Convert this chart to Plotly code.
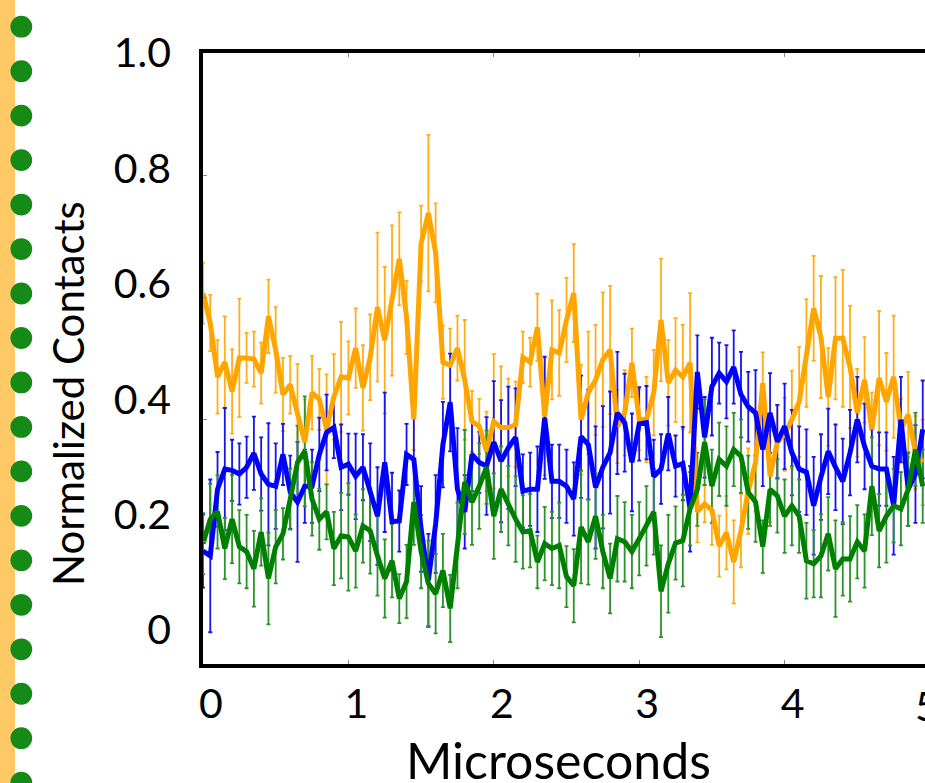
import plotly.graph_objects as go

# Sampling times (microseconds), 0.05 us steps
time_us = [round(0.05 * k, 2) for k in range(100)]

orange_vals = [0.607, 0.558, 0.470, 0.494, 0.446, 0.501, 0.501, 0.499, 0.476, 0.569,
               0.514, 0.441, 0.457, 0.411, 0.363, 0.444, 0.433, 0.384, 0.437, 0.470,
               0.468, 0.517, 0.452, 0.502, 0.584, 0.530, 0.595, 0.663, 0.567, 0.400,
               0.688, 0.738, 0.673, 0.494, 0.489, 0.517, 0.465, 0.397, 0.389, 0.348,
               0.397, 0.387, 0.387, 0.392, 0.502, 0.494, 0.551, 0.405, 0.514, 0.509,
               0.563, 0.607, 0.400, 0.444, 0.465, 0.498, 0.514, 0.389, 0.411, 0.493,
               0.400, 0.400, 0.444, 0.563, 0.460, 0.481, 0.470, 0.493, 0.249, 0.262,
               0.252, 0.193, 0.215, 0.167, 0.218, 0.283, 0.330, 0.460, 0.307, 0.363,
               0.376, 0.400, 0.429, 0.509, 0.582, 0.535, 0.437, 0.533, 0.533, 0.486,
               0.411, 0.465, 0.384, 0.468, 0.429, 0.470, 0.384, 0.408, 0.346, 0.330]
orange_err = [0.05, 0.046, 0.06, 0.075, 0.069, 0.097, 0.041, 0.045, 0.05, 0.06,
              0.07, 0.06, 0.047, 0.08, 0.07, 0.06, 0.05, 0.09, 0.07, 0.09,
              0.06, 0.065, 0.07, 0.07, 0.122, 0.12, 0.123, 0.076, 0.06, 0.05,
              0.062, 0.128, 0.081, 0.06, 0.06, 0.053, 0.098, 0.05, 0.045, 0.065,
              0.11, 0.1, 0.08, 0.07, 0.042, 0.04, 0.055, 0.096, 0.081, 0.07,
              0.069, 0.08, 0.09, 0.1, 0.09, 0.11, 0.105, 0.06, 0.07, 0.056,
              0.05, 0.07, 0.07, 0.1, 0.07, 0.085, 0.085, 0.114, 0.05, 0.03,
              0.057, 0.05, 0.06, 0.068, 0.06, 0.07, 0.08, 0.05, 0.075, 0.06,
              0.06, 0.08, 0.09, 0.088, 0.086, 0.1, 0.08, 0.1, 0.112, 0.1,
              0.072, 0.07, 0.06, 0.11, 0.08, 0.1, 0.05, 0.07, 0.06, 0.07]

blue_vals = [0.185, 0.177, 0.286, 0.319, 0.317, 0.311, 0.322, 0.345, 0.311, 0.294,
             0.291, 0.343, 0.281, 0.265, 0.291, 0.291, 0.343, 0.379, 0.387, 0.322,
             0.327, 0.307, 0.322, 0.281, 0.242, 0.330, 0.233, 0.234, 0.343, 0.335,
             0.221, 0.137, 0.229, 0.359, 0.428, 0.286, 0.249, 0.343, 0.330, 0.324,
             0.363, 0.332, 0.354, 0.371, 0.283, 0.286, 0.286, 0.403, 0.299, 0.299,
             0.291, 0.270, 0.372, 0.359, 0.289, 0.322, 0.346, 0.411, 0.395, 0.330,
             0.393, 0.395, 0.307, 0.319, 0.377, 0.324, 0.328, 0.254, 0.478, 0.371,
             0.454, 0.476, 0.462, 0.486, 0.441, 0.421, 0.411, 0.351, 0.411, 0.364,
             0.389, 0.346, 0.319, 0.314, 0.259, 0.306, 0.348, 0.322, 0.299, 0.346,
             0.400, 0.356, 0.324, 0.319, 0.319, 0.259, 0.400, 0.286, 0.311, 0.384]
blue_err = [0.06, 0.125, 0.061, 0.1, 0.05, 0.05, 0.05, 0.06, 0.06, 0.1,
            0.07, 0.05, 0.06, 0.098, 0.06, 0.06, 0.06, 0.062, 0.05, 0.07,
            0.05, 0.07, 0.054, 0.08, 0.08, 0.114, 0.08, 0.05, 0.05, 0.09,
            0.07, 0.076, 0.08, 0.07, 0.08, 0.1, 0.06, 0.06, 0.05, 0.08,
            0.1, 0.1, 0.1, 0.08, 0.06, 0.06, 0.07, 0.1, 0.06, 0.06,
            0.06, 0.06, 0.1, 0.09, 0.1, 0.1, 0.1, 0.1, 0.08, 0.08,
            0.06, 0.06, 0.06, 0.057, 0.06, 0.05, 0.06, 0.07, 0.06, 0.066,
            0.08, 0.05, 0.06, 0.06, 0.07, 0.057, 0.07, 0.06, 0.065, 0.06,
            0.07, 0.07, 0.07, 0.07, 0.08, 0.07, 0.07, 0.07, 0.07, 0.07,
            0.07, 0.07, 0.06, 0.06, 0.06, 0.08, 0.07, 0.06, 0.08, 0.08]

green_vals = [0.197, 0.237, 0.249, 0.189, 0.237, 0.192, 0.184, 0.156, 0.216, 0.140,
              0.192, 0.213, 0.270, 0.330, 0.348, 0.270, 0.237, 0.249, 0.189, 0.210,
              0.208, 0.185, 0.226, 0.218, 0.177, 0.140, 0.169, 0.107, 0.135, 0.265,
              0.184, 0.132, 0.115, 0.153, 0.091, 0.194, 0.298, 0.265, 0.291, 0.322,
              0.242, 0.286, 0.259, 0.237, 0.216, 0.218, 0.167, 0.197, 0.189, 0.194,
              0.143, 0.128, 0.224, 0.200, 0.242, 0.184, 0.140, 0.205, 0.200, 0.184,
              0.205, 0.226, 0.249, 0.119, 0.164, 0.198, 0.202, 0.254, 0.286, 0.363,
              0.291, 0.335, 0.324, 0.351, 0.340, 0.281, 0.265, 0.192, 0.286, 0.275,
              0.242, 0.259, 0.242, 0.169, 0.164, 0.177, 0.213, 0.156, 0.172, 0.172,
              0.200, 0.185, 0.291, 0.218, 0.242, 0.259, 0.254, 0.286, 0.351, 0.291]
green_err = [0.05, 0.058, 0.06, 0.05, 0.072, 0.06, 0.06, 0.062, 0.055, 0.075,
             0.06, 0.042, 0.05, 0.06, 0.09, 0.06, 0.05, 0.045, 0.06, 0.07,
             0.088, 0.06, 0.06, 0.07, 0.065, 0.064, 0.06, 0.04, 0.06, 0.07,
             0.06, 0.07, 0.065, 0.06, 0.055, 0.07, 0.085, 0.07, 0.07, 0.06,
             0.07, 0.07, 0.065, 0.07, 0.06, 0.06, 0.043, 0.06, 0.06, 0.07,
             0.05, 0.06, 0.092, 0.07, 0.07, 0.06, 0.057, 0.07, 0.065, 0.06,
             0.06, 0.065, 0.07, 0.075, 0.08, 0.06, 0.075, 0.06, 0.06, 0.07,
             0.06, 0.06, 0.065, 0.06, 0.06, 0.06, 0.065, 0.043, 0.06, 0.06,
             0.06, 0.065, 0.06, 0.062, 0.055, 0.068, 0.06, 0.079, 0.06, 0.07,
             0.06, 0.06, 0.08, 0.06, 0.076, 0.06, 0.06, 0.06, 0.06, 0.06]

x_ticks = [0, 1, 2, 3, 4]
x_ticktext = ["0", "1", "2", "3", "4"]
y_ticks = [0, 0.2, 0.4, 0.6, 0.8, 1.0]
y_ticktext = ["0", "0.2", "0.4", "0.6", "0.8", "1.0"]

series = [
    (orange_vals, orange_err, "#FFA500", "#FFAE1A"),
    (blue_vals, blue_err, "#0000FF", "#1414F5"),
    (green_vals, green_err, "#008000", "#2A942A"),
]

# Page geometry (pixels)
W, H = 925, 783
L, T, B = 203, 53, 119
PW, PH = W - L, H - T - B
PX_PER_US = 145.4

def px(xp):
    return (xp - L) / PW

def py(yp):
    return (H - B - yp) / PH

FONT = "Lato"
fig = go.Figure()

# error bars underneath every line
for vals, err, _, bar_col in series:
    fig.add_trace(go.Scatter(
        x=time_us, y=vals, mode="markers",
        marker=dict(size=1, color="rgba(0,0,0,0)"),
        error_y=dict(type="data", array=err, visible=True,
                     color=bar_col, thickness=1.8, width=2),
        hoverinfo="skip", showlegend=False,
    ))

for vals, _, line_col, _ in series:
    fig.add_trace(go.Scatter(
        x=time_us, y=vals, mode="lines",
        line=dict(color=line_col, width=5),
        showlegend=False,
    ))

# label-only axis for the y tick text
fig.add_trace(go.Scatter(x=[None], y=[None], yaxis="y2", showlegend=False))

shapes = [dict(type="rect", xref="paper", yref="paper",
               x0=px(0), x1=px(15), y0=py(H), y1=py(0),
               fillcolor="#FFC966", line=dict(width=0), layer="above")]
for k in range(18):
    cy = 26.7 + 44.47 * k
    shapes.append(dict(type="circle", xref="paper", yref="paper",
                       x0=px(21.3 - 10.9), x1=px(21.3 + 10.9),
                       y0=py(cy + 10.9), y1=py(cy - 10.9),
                       fillcolor="#168A16", line=dict(width=0), layer="above"))

fig.update_layout(
    width=W, height=H,
    margin=dict(l=L, r=0, t=T, b=B),
    paper_bgcolor="white", plot_bgcolor="white",
    showlegend=False,
    font=dict(family=FONT, color="black"),
    xaxis=dict(
        range=[0, PW / PX_PER_US],
        tickvals=x_ticks, ticktext=x_ticktext,
        tickfont=dict(size=41, family=FONT, color="black"),
        ticklabelshift=8, ticklabelstandoff=1,
        ticks="inside", ticklen=4, tickwidth=1, tickcolor="#888888",
        showline=True, linewidth=4, linecolor="black", mirror="ticks",
        showgrid=False, zeroline=False,
    ),
    yaxis=dict(
        range=[0, 1.0],
        tickvals=y_ticks, showticklabels=False,
        ticks="inside", ticklen=4, tickwidth=1, tickcolor="#888888",
        showline=True, linewidth=4, linecolor="black",
        showgrid=False, zeroline=False,
    ),
    yaxis2=dict(
        overlaying="y", side="left",
        range=[-0.0589, 1.0],
        tickvals=y_ticks, ticktext=y_ticktext,
        tickfont=dict(size=41, family=FONT, color="black"),
        ticks="", ticklabelstandoff=31,
        showline=False, showgrid=False, zeroline=False,
    ),
    shapes=shapes,
    annotations=[
        dict(text="5", xref="paper", yref="paper", x=px(927), y=py(705),
             showarrow=False, font=dict(size=41, family=FONT, color="black"),
             xanchor="center", yanchor="middle"),
        dict(text="Microseconds", xref="paper", yref="paper",
             x=px(558), y=py(760), showarrow=False,
             font=dict(size=50, family=FONT, color="black"),
             xanchor="center", yanchor="middle"),
        dict(text="Normalized Contacts", xref="paper", yref="paper",
             x=px(68), y=py(394), showarrow=False, textangle=-90,
             font=dict(size=42, family=FONT, color="black"),
             xanchor="center", yanchor="middle"),
    ],
)

fig.write_html("out.html")
